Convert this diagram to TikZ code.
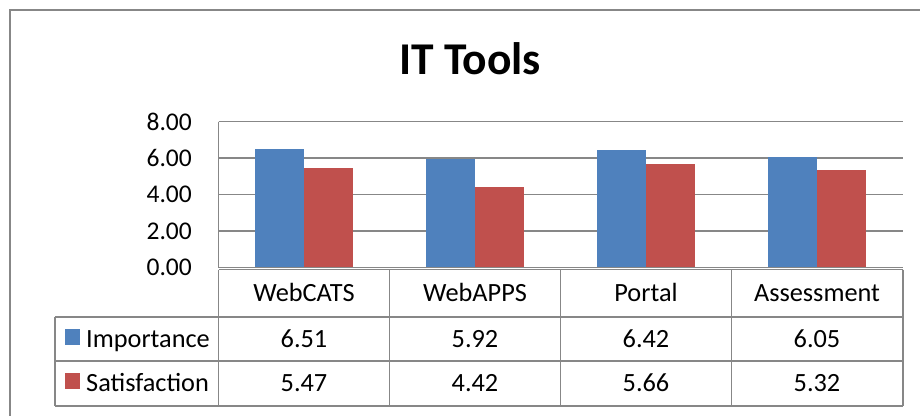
\documentclass[tikz,border=0pt]{standalone}
\usepackage{fontspec}
\setmainfont{Carlito}
\definecolor{impblue}{HTML}{4F81BD}
\definecolor{satred}{HTML}{C0504D}
\definecolor{rulegray}{HTML}{878787}
\begin{document}
\begin{tikzpicture}[x=1pt,y=-1pt,
  frame/.style={draw=rulegray,line width=1.8pt},
  gridline/.style={draw=rulegray,line width=1.4pt},
  cellrule/.style={draw=rulegray,line width=1.6pt},
  ticklabel/.style={font=\fontsize{25.5}{30}\selectfont,anchor=east,inner sep=0pt},
  celltext/.style={font=\fontsize{26.3}{31}\selectfont,anchor=base,inner sep=0pt},
  charttitle/.style={font=\fontsize{45.5}{54}\selectfont\bfseries,anchor=base,inner sep=0pt}]
\useasboundingbox (0,0) rectangle (920,415);
\clip (0,0) rectangle (920,415);
\fill[white] (0,0) rectangle (920,415);
% chart frame (runs off the right and bottom edges)
\draw[frame] (10,10) rectangle (940,440);
% title
\node[charttitle] (title) at (470,74) {IT Tools};
% value axis: gridlines and labels (0 at y=267.5, 18.25 per unit)
\foreach \v in {2,4,6,8}
  \draw[gridline] (218.5,{267.5-18.25*\v}) -- (902.7,{267.5-18.25*\v});
\foreach \v/\t in {0/0.00,2/2.00,4/4.00,6/6.00,8/8.00}
  \node[ticklabel] (ylab\v) at (192,{267.5-18.25*\v}) {\t};
% bars
\foreach \i/\a/\b in {0/6.51/5.47,1/5.92/4.42,2/6.42/5.66,3/6.05/5.32}{
  \fill[impblue] ({218.5+171*\i+36.5},267.5) rectangle ({218.5+171*\i+85.5},{267.5-18.25*\a});
  \fill[satred]  ({218.5+171*\i+85.5},267.5) rectangle ({218.5+171*\i+134.5},{267.5-18.25*\b});
}
% plot area edges
\draw[gridline] (218.5,121.5) -- (902.7,121.5);
\draw[gridline] (218.5,121.5) -- (218.5,267.5) -- (902.7,267.5);
% data table
\draw[cellrule] (218.5,269.5) -- (902.7,269.5);
\foreach \y in {316.7,361,405.7}
  \draw[cellrule] (55,\y) -- (902.7,\y);
\draw[cellrule] (55,316.7) -- (55,405.7);
\foreach \x in {218.5,389.5,560.5,731.5,902.7}
  \draw[cellrule] (\x,269.5) -- (\x,405.7);
% category names and values
\foreach \i/\c/\a/\b in {0/WebCATS/6.51/5.47,1/WebAPPS/5.92/4.42,2/Portal/6.42/5.66,3/Assessment/6.05/5.32}{
  \node[celltext] (cat\i) at ({304+171*\i},301) {\c};
  \node[celltext] (imp\i) at ({304+171*\i},347) {\a};
  \node[celltext] (sat\i) at ({304+171*\i},391) {\b};
}
% legend keys
\fill[impblue] (65,329) rectangle (80,345);
\fill[satred] (65,373) rectangle (80,389);
\node[celltext,anchor=base west] (legimp) at (86,347) {Importance};
\node[celltext,anchor=base west] (legsat) at (86,391) {Satisfaction};
\end{tikzpicture}
\end{document}
